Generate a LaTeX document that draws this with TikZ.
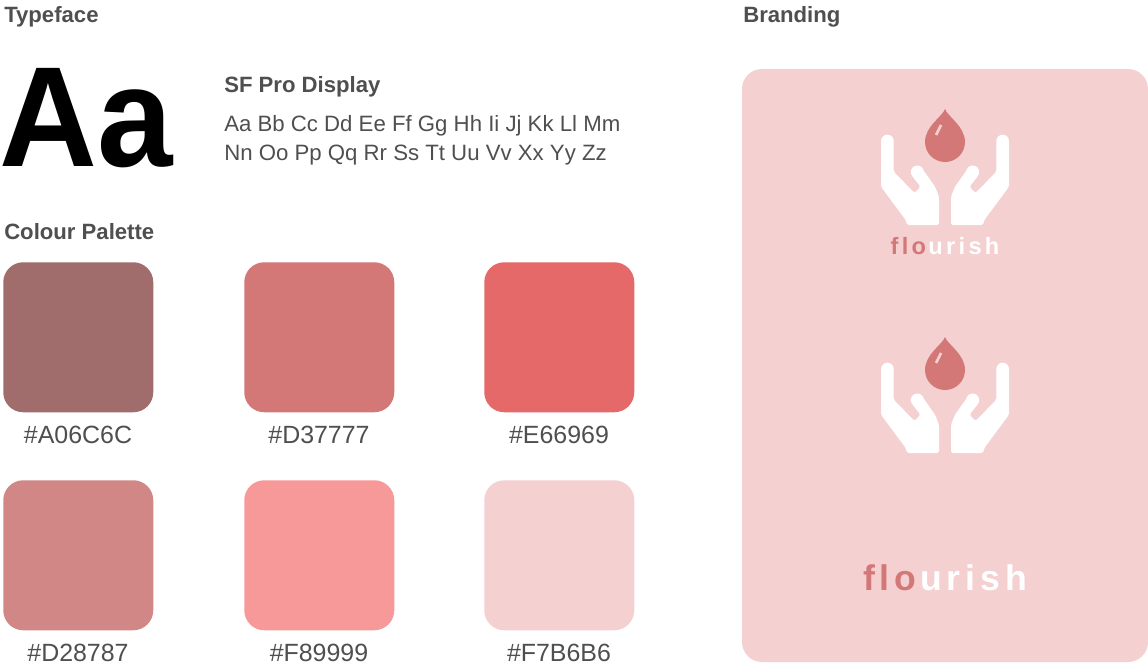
\documentclass[tikz,border=0pt]{standalone}
\usepackage{fontspec}
\setmainfont{Liberation Sans}
\definecolor{fpText}{HTML}{4F4F4F}
\definecolor{fpPanel}{HTML}{F4D0D1}
\definecolor{fpRose}{HTML}{D37777}
\definecolor{fpMauve}{HTML}{A06C6C}
\definecolor{fpCoral}{HTML}{E66969}
\definecolor{fpDusty}{HTML}{D28787}
\definecolor{fpSalmon}{HTML}{F89999}
\usetikzlibrary{calc,positioning}
\newcommand{\pxfont}[1]{\fontsize{#1}{#1}\selectfont}
\newcommand{\rosetext}[1]{{\color{fpRose}#1}\kern0.1em}
% one hand of the logo, open side to the right
\newcommand{\logohand}{
  \fill[white, rounded corners=1.2pt] (-64,32) -- (-64,77.7) -- (-39.3,111) -- (-38,116)
    -- (-6,116) -- (-6,87.7) -- (-10,77.7) -- (-22.5,60) -- (-33.3,66.5) -- (-24.5,77.7)
    -- (-30.5,84) -- (-51.3,62.7) -- (-51.3,32) -- cycle;
  \fill[white] (-57.65,32) circle (6.35);
  \fill[white] (-27.7,63) circle (6.5);
}
% drop and two hands, #1 is the tip of the drop
\newcommand{\logomark}[1]{
  \begin{scope}[shift={#1}]
    \fill[fpRose] (0,0) .. controls (2,7) and (20,17) .. (20,33) arc[start angle=0, end angle=180, radius=20]
      .. controls (-20,17) and (-2,7) .. (0,0) -- cycle;
    \draw[fpPanel, line width=2pt] (-4,16) -- (-9,26);
    \logohand
    \begin{scope}[xscale=-1]
      \logohand
    \end{scope}
  \end{scope}
}
\begin{document}
\begin{tikzpicture}[
  x=0.75pt, y=-0.75pt,
  heading/.style={anchor=base west, inner sep=0pt, text=fpText, font=\pxfont{16.6}\bfseries},
  swatch/.style={rounded corners=15pt, minimum size=112.5pt, inner sep=0pt, anchor=north west},
  hexlabel/.style={anchor=base, inner sep=0pt, text=fpText, font=\pxfont{18.7}},
  sample/.style={anchor=base west, inner sep=0pt, text=fpText, font=\pxfont{16.65}}
]
  \useasboundingbox (0,0) rectangle (1148,671);
  \fill[white] (0,0) rectangle (1148,671);

  % typeface
  \node[heading] (typeface) at (4,22) {Typeface};
  \node[anchor=base west, inner sep=0pt, xscale=0.95, transform shape, font=\pxfont{107}\bfseries] (bigaa) at (-1,166) {Aa};
  \node[heading] (fontname) at (224,92) {SF Pro Display};
  \node[sample] (lineone) at (224,131) {Aa Bb Cc Dd Ee Ff Gg Hh Ii Jj Kk Ll Mm};
  \node[sample] (linetwo) at (224,160) {Nn Oo Pp Qq Rr Ss Tt Uu Vv Xx Yy Zz};

  % palette
  \node[heading] (palette) at (4,239) {Colour Palette};
  \node[swatch, fill=fpMauve] (mauve) at (3,262) {};
  \node[swatch, fill=fpRose] (rose) at (244,262) {};
  \node[swatch, fill=fpCoral] (coral) at (484,262) {};
  \node[swatch, fill=fpDusty] (dusty) at (3,480) {};
  \node[swatch, fill=fpSalmon] (salmon) at (244,480) {};
  \node[swatch, fill=fpPanel] (blush) at (484,480) {};
  \node[hexlabel] (mauvehex) at (78,443) {\#A06C6C};
  \node[hexlabel] (rosehex) at (319,443) {\#D37777};
  \node[hexlabel] (coralhex) at (559,443) {\#E66969};
  \node[hexlabel] (dustyhex) at (78,661) {\#D28787};
  \node[hexlabel] (salmonhex) at (319,661) {\#F89999};
  \node[hexlabel] (blushhex) at (559,661) {\#F7B6B6};

  % branding
  \node[heading] (branding) at (743,22) {Branding};
  \fill[fpPanel, rounded corners=15pt] (742,69) rectangle (1148,662);
  \logomark{(945,109)}
  \logomark{(945,337)}
  \node[anchor=base, inner sep=0pt, text=white, font=\pxfont{17.7}\bfseries\addfontfeature{LetterSpace=14}] (smallname) at (945,254) {\rosetext{flo}urish};
  \node[anchor=base, inner sep=0pt, text=white, font=\pxfont{26.7}\bfseries\addfontfeature{LetterSpace=14}] (largename) at (945,590) {\rosetext{flo}urish};
\end{tikzpicture}
\end{document}
